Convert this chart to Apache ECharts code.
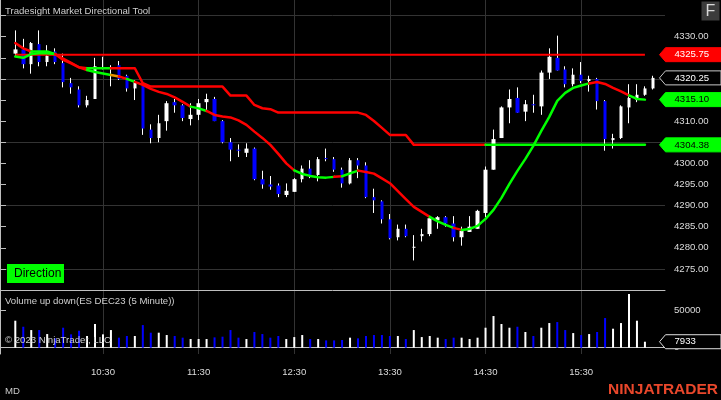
<!DOCTYPE html>
<html><head><meta charset="utf-8">
<script src="https://cdn.jsdelivr.net/npm/echarts@6/dist/echarts.min.js"></script>
<style>html,body{margin:0;padding:0;background:#000;}#c{width:721px;height:400px;}</style>
</head><body><div id="c"></div>
<script>
// ---------- data ----------
const times = ['9:35','9:40','9:45','9:50','9:55','10:00','10:05','10:10','10:15','10:20','10:25','10:30',
'10:35','10:40','10:45','10:50','10:55','11:00','11:05','11:10','11:15','11:20','11:25','11:30',
'11:35','11:40','11:45','11:50','11:55','12:00','12:05','12:10','12:15','12:20','12:25','12:30',
'12:35','12:40','12:45','12:50','12:55','13:00','13:05','13:10','13:15','13:20','13:25','13:30',
'13:35','13:40','13:45','13:50','13:55','14:00','14:05','14:10','14:15','14:20','14:25','14:30',
'14:35','14:40','14:45','14:50','14:55','15:00','15:05','15:10','15:15','15:20','15:25','15:30',
'15:35','15:40','15:45','15:50','15:55','16:00','16:05','16:10','16:15'];
const timeTicks = ['10:30','11:30','12:30','13:30','14:30','15:30'];

const opens = [4326,4327,4323.5,4328.25,4324,4326.5,4323.75,4319,4317.5,4313.75,
 4315.25,4322.5,4322.5,4323.25,4320.75,4317.75,4319,4308,4306,4310,
 4314.5,4313.75,4310.5,4311.5,4314.5,4315.25,4310,4305,4303.25,4302.5,
 4303.5,4296.25,4295,4294.75,4292.5,4293.25,4296.25,4298.75,4297.25,4301.25,
 4301,4298.5,4295.25,4300.75,4299.5,4292,4291,4286.75,4282.5,4284.5,
 4280,4282.75,4283.25,4286.5,4287.25,4285.75,4282.5,4283.75,4284.5,4288.25,
 4298.5,4306,4313.25,4315.5,4312.25,4314,4313.5,4321.5,4325,4322.25,
 4318.75,4321,4319.5,4320,4314.75,4305.5,4306,4313.25,4315,4316.25,
 4317.75];
const highs = [4331.5,4329.5,4328.75,4331.5,4328,4327.25,4326,4320.25,4318.25,4316,
 4325,4325.25,4323.25,4324.25,4321,4319.75,4319.5,4309.25,4311.5,4314.75,
 4315.25,4314,4314.25,4315.25,4316.5,4315.75,4310.25,4306,4304.5,4304.75,
 4303.75,4298.25,4297,4295.25,4295.25,4296.5,4299.5,4300.75,4301.5,4303.5,
 4301.5,4299,4301.25,4301.25,4300.25,4294,4291.25,4288,4285.5,4285.5,
 4283,4284.5,4287.25,4287.5,4287.5,4287.5,4285,4287.5,4289,4299.25,
 4308,4313.5,4317.5,4318,4315,4316.25,4322,4327.25,4330.25,4323,
 4322.5,4324,4320.75,4320.25,4315,4307,4313.75,4318.75,4318.75,4318.25,
 4320.75];
const lows = [4325.25,4322.5,4321.25,4323,4323,4323.5,4318,4316.5,4313.25,4313.25,
 4315.25,4322.25,4318.25,4319.75,4317,4315,4306.75,4304.75,4305,4307.75,
 4312,4310,4309,4310.25,4312.5,4310,4304.75,4300.5,4301.5,4301.5,
 4296,4294,4293.75,4292,4292,4293.25,4295.5,4296.5,4295.75,4300.5,
 4298,4294.25,4295,4296.5,4291.75,4288.25,4285.75,4282,4281.75,4282.5,
 4277,4281.5,4282.75,4284.5,4285,4281.5,4280.5,4283.75,4284.5,4287.25,
 4298.5,4306,4309.5,4312,4310,4312,4311.5,4320,4322,4318,
 4318.25,4319,4317,4312.75,4303,4303.5,4305.75,4309.5,4314.5,4316,
 4317.5];
const closes = [4327,4323.5,4328.5,4324,4325.5,4324,4319.25,4318,4313.75,4315,
 4323,4322.75,4322.75,4320,4317.75,4319.25,4308.25,4306,4309.5,4314.25,
 4313.75,4310.75,4311.5,4314.25,4315.25,4310,4305,4303.25,4303,4303.5,
 4296.25,4295,4294.5,4292.75,4293.5,4296.25,4298.75,4297.25,4301,4301,
 4298.5,4295.25,4300.75,4299.5,4292,4291.25,4286.75,4282.25,4284.5,4282.75,
 4280.25,4283.25,4287,4287.25,4285.75,4282.5,4284,4285,4288.75,4298.5,
 4305.75,4313.25,4315.25,4312,4314,4313.75,4321.5,4325.25,4322,4318.75,
 4321,4319.5,4320,4314.75,4305.75,4306,4313.5,4315.5,4316.25,4317.75,
 4320.25];
const volumes = [35800,27800,23400,23400,18100,12400,26500,17700,22500,15500,
 31400,17700,23400,13300,15500,15500,30000,19900,19900,16800,
 15500,13300,11500,11500,11500,13700,14600,23400,13300,11500,
 20800,18100,13300,15500,11500,14100,16800,11500,11500,9700,
 9700,10200,13300,12400,15500,16800,16800,15500,15500,11500,
 23400,14100,15500,13300,11500,13300,13300,11500,13300,26500,
 42000,31400,26500,27800,20800,15500,26500,32700,34000,23400,
 19400,16800,18100,20800,39300,25200,32700,71200,35800,7933];

const resistance = 4325.75;
const resistanceSpan = ['9:35','16:10'];

const stepLine = [4328.5,4327.25,4326.5,4326.5,4326.5,4325.86,4324.83,4323.82,4322.77,4322.54,
 4322.54,4322.54,4322.54,4322.54,4322.54,4322.54,4318.98,4318.18,4318.18,4318.18,
 4318.18,4318.18,4318.18,4318.18,4318.18,4318.18,4318.18,4316.05,4316.05,4316.05,
 4313.84,4313.06,4312.83,4312.02,4312.02,4312.02,4312.02,4312.02,4312.02,4312.02,
 4312.02,4312.02,4312.02,4312.02,4311.48,4310.05,4308.40,4306.74,4306.74,4306.74,
 4304.38,4304.38,4304.38,4304.38,4304.38,4304.38,4304.38,4304.38,4304.38,4304.38,
 4304.38,4304.38,4304.38,4304.38,4304.38,4304.38,4304.38,4304.38,4304.38,4304.38,
 4304.38,4304.38,4304.38,4304.38,4304.38,4304.38,4304.38,4304.38,4304.38,4304.38];
const stepState = '-RRGGGRRRR GGGRRRRRRR RRRRRRRRRR RRRRRRRRRR RRRRRRRRRR RRRRRRRRRR GGGGGGGGGG GGGGGGGGGG';

const maLine = [4325.3,4325.0,4325.9,4326.1,4326.1,4325.9,4324.50,4323.67,4322.73,4322.13,
 4321.66,4321.31,4320.95,4320.60,4320.00,4319.29,4318.58,4317.64,4316.93,4316.45,
 4315.62,4314.55,4313.44,4313.02,4312.42,4311.48,4311.12,4310.88,4310.17,4309.11,
 4307.52,4306.03,4304.37,4302.24,4299.99,4298.33,4297.50,4297.03,4296.72,4296.62,
 4296.80,4296.95,4297.62,4298.28,4297.97,4297.57,4296.44,4295.30,4293.40,4291.51,
 4289.68,4288.50,4287.32,4286.25,4285.42,4284.71,4284.24,4284.47,4285.18,4286.84,
 4288.97,4291.82,4295.13,4298.21,4301.05,4304.13,4307.69,4311.00,4314.79,4316.69,
 4317.87,4318.46,4318.94,4319.29,4318.82,4317.87,4317.04,4316.09,4315.27,4315.10];
const maState = '-GGGGGRRRR GGGORGRRRR RRRGGRRRRR RRRRRRGGGG GRGGRRRRRR RRRGGGRGGG GGGGGGGGGG GGGRRRRRGG';

const priceTicks = [4275,4280,4285,4290,4295,4300,4305,4310,4315,4320,4325,4330,4335];
const priceLabels = [4275,4280,4285,4290,4295,4300,4305,4310,4315,4320,4325,4330];
const priceGrid = [4275,4290,4305,4320,4335];
const volTicks = [0,50000];

// ---------- styling ----------
const FONT = '"Liberation Sans", Arial, sans-serif';
const FS = 9.6;
const GRIDC = '#333333';
const AXC = '#BEBEBE';
const LBL = '#DCDCDC';
const UP = '#FFFFFF', DOWN = '#0000FF';
const STATE_COL = {R:'#FF0000', G:'#00FF00', O:'#E69500'};
const P_MIN = 4270, P_MAX = 4338.7;
const V_MIN = -8355, V_MAX = 76525;

const isTick = (idx, val) => timeTicks.indexOf(val) >= 0;

function runSeries(values, stateStr, width, z) {
  const states = stateStr.replace(/ /g, '');
  const out = [];
  let i = 1;
  while (i < values.length) {
    const s = states[i];
    let j = i;
    while (j + 1 < values.length && states[j + 1] === s) j++;
    const data = values.map((v, k) => (k >= i - 1 && k <= j) ? v : null);
    out.push({type:'line', xAxisIndex:0, yAxisIndex:0, data, symbol:'none', showSymbol:false,
      connectNulls:false, silent:true, z, animation:false,
      lineStyle:{color:STATE_COL[s], width, cap:'round', join:'round'}});
    i = j + 1;
  }
  return out;
}

const wickData = opens.map((o, i) => [o, closes[i], lows[i], highs[i]]);
const bodyData = opens.map((o, i) => [o, closes[i], Math.min(o, closes[i]), Math.max(o, closes[i])]);
const volData = volumes.map((v, i) => ({value:v, itemStyle:{color: closes[i] >= opens[i] ? UP : DOWN}}));

const chart = echarts.init(document.getElementById('c'), null, {renderer:'canvas', width:721, height:400});

const option = {
  backgroundColor:'#000000',
  animation:false,
  grid:[
    {left:15.3, right:68.1, top:0, height:290, outerBoundsMode:'none'},
    {left:15.3, right:68.1, top:290, height:64, outerBoundsMode:'none'},
    {left:0, right:56, top:0, height:290, outerBoundsMode:'none'},
    {left:0, right:56, top:290, height:64, outerBoundsMode:'none'}
  ],
  xAxis:[
    {type:'category', gridIndex:0, data:times, boundaryGap:false,
      axisLine:{show:false}, axisTick:{show:false}, axisLabel:{show:false},
      splitLine:{show:true, interval:isTick, lineStyle:{color:GRIDC, width:1}}},
    {type:'category', gridIndex:1, data:times, boundaryGap:false,
      axisLine:{show:false},
      axisTick:{show:true, interval:isTick, length:5, lineStyle:{color:GRIDC}},
      axisLabel:{show:true, interval:isTick, color:LBL, fontSize:FS, fontFamily:FONT, margin:13},
      splitLine:{show:true, interval:isTick, lineStyle:{color:GRIDC, width:1}}},
    {type:'value', gridIndex:2, min:0, max:1, position:'bottom',
      axisLine:{show:true, lineStyle:{color:AXC}}, axisTick:{show:false}, axisLabel:{show:false}, splitLine:{show:false}},
    {type:'value', gridIndex:3, min:0, max:1, position:'bottom',
      axisLine:{show:true, lineStyle:{color:AXC}}, axisTick:{show:false}, axisLabel:{show:false}, splitLine:{show:false}}
  ],
  yAxis:[
    {type:'value', gridIndex:0, min:P_MIN, max:P_MAX, show:false},
    {type:'value', gridIndex:1, min:V_MIN, max:V_MAX, show:false},
    {type:'value', gridIndex:2, position:'right', min:P_MIN, max:P_MAX,
      axisLine:{show:true, lineStyle:{color:AXC}},
      axisTick:{show:true, customValues:priceTicks, length:6, lineStyle:{color:AXC}},
      axisLabel:{show:true, customValues:priceLabels, formatter:v => Number(v).toFixed(2),
        color:LBL, fontSize:FS, fontFamily:FONT, margin:9},
      splitLine:{show:false}},
    {type:'value', gridIndex:2, position:'right', min:P_MIN, max:P_MAX,
      axisLine:{show:false}, axisTick:{show:false, customValues:priceGrid}, axisLabel:{show:false},
      splitLine:{show:true, lineStyle:{color:GRIDC, width:1}}},
    {type:'value', gridIndex:3, position:'right', min:V_MIN, max:V_MAX,
      axisLine:{show:true, lineStyle:{color:AXC}},
      axisTick:{show:true, customValues:volTicks, length:6, lineStyle:{color:AXC}},
      axisLabel:{show:true, customValues:volTicks, formatter:v => String(Math.round(v)),
        color:LBL, fontSize:FS, fontFamily:FONT, margin:9},
      splitLine:{show:false}}
  ],
  series:[
    {type:'bar', xAxisIndex:1, yAxisIndex:1, data:volData, barWidth:2, silent:true, z:2},
    {type:'candlestick', xAxisIndex:0, yAxisIndex:0, data:wickData, barWidth:1, clip:false, silent:true, z:2,
      itemStyle:{color:UP, color0:UP, borderColor:UP, borderColor0:UP, borderWidth:1}},
    {type:'candlestick', xAxisIndex:0, yAxisIndex:0, data:bodyData, barWidth:4, clip:false, silent:true, z:3,
      itemStyle:{color:UP, color0:DOWN, borderColor:UP, borderColor0:DOWN, borderWidth:0}},
    {type:'line', xAxisIndex:0, yAxisIndex:0, silent:true, symbol:'none', showSymbol:false, z:5,
      data:[[resistanceSpan[0], resistance], [resistanceSpan[1], resistance]],
      lineStyle:{color:'#FF0000', width:2}},
    ...runSeries(stepLine, stepState, 2.5, 6),
    ...runSeries(maLine, maState, 2.5, 7)
  ]
};
chart.setOption(option);

// ---------- overlay: flags and texts ----------
function flag(y, fill, stroke, txtColor, text) {
  return [
    {type:'polygon', z:100, shape:{points:[[659.5,y],[665.5,y-7],[721,y-7],[721,y+7],[665.5,y+7]]},
      style:{fill, stroke, lineWidth:1}},
    {type:'text', z:101, x:674.5, y:y, style:{text, fill:txtColor, font:FS + 'px ' + FONT,
      align:'left', verticalAlign:'middle', textAlign:'left', textVerticalAlign:'middle'}}
  ];
}
const py = v => chart.convertToPixel({yAxisIndex:0}, v);
const vy = v => chart.convertToPixel({yAxisIndex:1}, v);
const lastClose = closes[closes.length - 1];
const lastVol = volumes[volumes.length - 1];
const els = [].concat(
  flag(py(resistance), '#FF0000', '#FF0000', '#FFFFFF', resistance.toFixed(2)),
  flag(py(lastClose), '#000000', '#C8C8C8', '#FFFFFF', lastClose.toFixed(2)),
  flag(py(maLine[maLine.length - 1]), '#00FF00', '#00FF00', '#000000', maLine[maLine.length - 1].toFixed(2)),
  flag(py(stepLine[stepLine.length - 1]), '#00FF00', '#00FF00', '#000000', stepLine[stepLine.length - 1].toFixed(2)),
  flag(vy(lastVol), '#000000', '#E0E0E0', '#FFFFFF', String(lastVol)),
  [
    {type:'text', z:50, x:5, y:11, style:{text:'Tradesight Market Directional Tool', fill:'#D0D0D0', font:FS + 'px ' + FONT, verticalAlign:'middle', textVerticalAlign:'middle'}},
    {type:'rect', z:50, shape:{x:701.5, y:1.5, width:18, height:19}, style:{fill:'#3C3C3C'}},
    {type:'text', z:51, x:710.5, y:11.5, style:{text:'F', fill:'#D8D8D8', font:'16px ' + FONT, align:'center', verticalAlign:'middle', textAlign:'center', textVerticalAlign:'middle'}},
    {type:'rect', z:50, shape:{x:7, y:264, width:57, height:19}, style:{fill:'#00FF00'}},
    {type:'text', z:51, x:14, y:273.5, style:{text:'Direction', fill:'#000000', font:'12px ' + FONT, verticalAlign:'middle', textVerticalAlign:'middle'}},
    {type:'text', z:50, x:5, y:301.5, style:{text:'Volume up down(ES DEC23 (5 Minute))', fill:'#D0D0D0', font:FS + 'px ' + FONT, verticalAlign:'middle', textVerticalAlign:'middle'}},
    {type:'text', z:50, x:5, y:340, style:{text:'© 2023 NinjaTrader, LLC', fill:'#D0D0D0', font:FS + 'px ' + FONT, verticalAlign:'middle', textVerticalAlign:'middle'}},
    {type:'text', z:50, x:5, y:391, style:{text:'MD', fill:'#C8C8C8', font:FS + 'px ' + FONT, verticalAlign:'middle', textVerticalAlign:'middle'}},
    {type:'text', z:50, x:718, y:390, style:{text:'NINJATRADER', fill:'#E9472B', font:'bold 15.5px ' + FONT, align:'right', verticalAlign:'middle', textAlign:'right', textVerticalAlign:'middle'}}
  ]
);
chart.setOption({graphic:{elements:els}});
</script>
</body></html>
